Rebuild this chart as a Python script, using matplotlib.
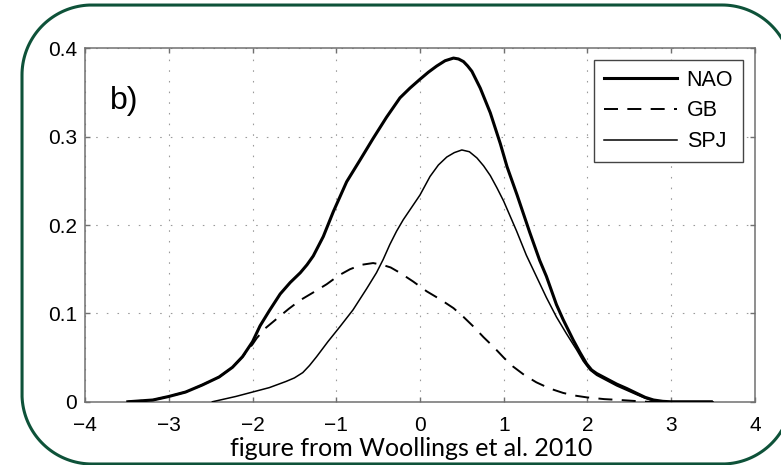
import matplotlib
matplotlib.use("Agg")
import matplotlib.pyplot as plt
import numpy as np
from matplotlib.lines import Line2D

# ── Density curves (standardised index value vs. probability density) ──────
nao_x = [-3.49, -3.19, -3.0, -2.8, -2.6, -2.4, -2.24, -2.12, -2.0, -1.91,
         -1.80, -1.67, -1.55, -1.43, -1.35, -1.275, -1.155, -1.036, -0.876,
         -0.72, -0.56, -0.40, -0.239, -0.12, 0.0, 0.10, 0.20, 0.30, 0.40,
         0.46, 0.52, 0.57, 0.62, 0.72, 0.84, 0.96, 1.04, 1.16, 1.31, 1.43,
         1.51, 1.63, 1.71, 1.83, 1.91, 1.99, 2.05, 2.11, 2.23, 2.35, 2.47,
         2.59, 2.69, 2.79, 2.90, 2.99, 3.48]
nao_y = [0.0, 0.002, 0.006, 0.011, 0.019, 0.028, 0.039, 0.051, 0.068, 0.086,
         0.103, 0.122, 0.135, 0.146, 0.155, 0.165, 0.187, 0.215, 0.249,
         0.273, 0.298, 0.322, 0.344, 0.355, 0.365, 0.373, 0.380, 0.386, 0.389,
         0.388, 0.385, 0.380, 0.374, 0.355, 0.327, 0.292, 0.266, 0.234, 0.192,
         0.160, 0.142, 0.110, 0.093, 0.070, 0.056, 0.043, 0.036, 0.032, 0.026,
         0.020, 0.015, 0.0095, 0.005, 0.002, 0.0005, 0.0, 0.0]

gb_x = [-3.49, -3.19, -3.0, -2.8, -2.6, -2.4, -2.24, -2.12, -2.0, -1.95,
        -1.85, -1.71, -1.57, -1.43, -1.27, -1.115, -0.97, -0.836, -0.70,
        -0.56, -0.45, -0.35, -0.24, -0.08, 0.08, 0.24, 0.40, 0.52, 0.64,
        0.76, 0.88, 1.0, 1.11, 1.25, 1.39, 1.55, 1.71, 1.85, 1.99, 2.2,
        2.39, 2.55, 2.71, 2.9]
gb_y = [0.0, 0.002, 0.006, 0.011, 0.019, 0.028, 0.039, 0.051, 0.065, 0.072,
        0.083, 0.094, 0.105, 0.115, 0.124, 0.133, 0.143, 0.150, 0.155,
        0.157, 0.155, 0.152, 0.146, 0.136, 0.125, 0.116, 0.106, 0.096, 0.085,
        0.073, 0.062, 0.050, 0.040, 0.030, 0.022, 0.015, 0.010, 0.007, 0.005,
        0.003, 0.002, 0.001, 0.0, 0.0]

spj_x = [-2.48, -2.2, -2.0, -1.8, -1.6, -1.5, -1.4, -1.32, -1.235, -1.1,
         -0.956, -0.80, -0.637, -0.52, -0.44, -0.36, -0.28, -0.2, -0.1, 0.0,
         0.12, 0.22, 0.32, 0.41, 0.50, 0.59, 0.68, 0.76, 0.84, 0.92, 1.0,
         1.155, 1.27, 1.39, 1.51, 1.63, 1.75, 1.87, 1.95, 2.03, 2.11, 2.23,
         2.35, 2.47, 2.59, 2.69, 2.79, 3.0, 3.5]
spj_y = [0.0, 0.006, 0.011, 0.016, 0.023, 0.027, 0.033, 0.041, 0.051, 0.068,
         0.085, 0.104, 0.128, 0.146, 0.161, 0.178, 0.193, 0.206, 0.220, 0.234,
         0.255, 0.268, 0.277, 0.282, 0.285, 0.283, 0.276, 0.267, 0.256, 0.242,
         0.227, 0.193, 0.166, 0.142, 0.118, 0.096, 0.077, 0.059, 0.046, 0.036,
         0.030, 0.024, 0.018, 0.013, 0.008, 0.004, 0.001, 0.0, 0.0]

x_ticks = [-4, -3, -2, -1, 0, 1, 2, 3, 4]
x_tick_labels = ["\u22124", "\u22123", "\u22122", "\u22121", "0", "1", "2", "3", "4"]
y_ticks = [0, 0.1, 0.2, 0.3, 0.4]
y_tick_labels = ["0", "0.1", "0.2", "0.3", "0.4"]

AXIS_GRAY = "#707070"
BORDER_GREEN = "#0e5239"

plt.rcParams["font.family"] = ["Liberation Sans", "DejaVu Sans"]

fig = plt.figure(figsize=(7.81, 4.65), dpi=100)
ax = fig.add_axes([0.109, 0.136, 0.8575, 0.760])

ax.plot(nao_x, nao_y, color="black", lw=2.2, label="NAO", zorder=3,
        solid_joinstyle="round")
ax.plot(gb_x, gb_y, color="black", lw=1.4, ls=(0, (7.2, 4.8)), label="GB",
        zorder=3)
ax.plot(spj_x, spj_y, color="black", lw=1.1, label="SPJ", zorder=3,
        solid_joinstyle="round")

ax.set_xlim(-4, 4)
ax.set_ylim(0, 0.4)
ax.set_xticks(x_ticks)
ax.set_xticklabels(x_tick_labels)
ax.set_yticks(y_ticks)
ax.set_yticklabels(y_tick_labels)

ax.grid(True, color="#9a9a9a", lw=0.8, ls=(0, (1.4, 8.2)))
ax.set_axisbelow(True)
for sp in ax.spines.values():
    sp.set_color(AXIS_GRAY)
    sp.set_linewidth(1.1)
ax.tick_params(direction="in", length=3.5, width=1.0, color=AXIS_GRAY,
               top=True, right=True, labelsize=15, labelcolor="black")
ax.tick_params(axis="x", pad=10)
ax.tick_params(axis="y", pad=6)

ax.text(-3.70, 0.34, "b)", fontsize=23, ha="left", va="center")

leg = ax.legend(loc="upper right", bbox_to_anchor=(0.982, 0.967),
                fontsize=15.5, handlelength=3.4, handletextpad=0.45,
                labelspacing=0.45, borderpad=0.45, fancybox=False,
                framealpha=1.0, borderaxespad=0)
leg.get_frame().set_edgecolor("#444444")
leg.get_frame().set_linewidth(1.0)


# rounded frame around the panel (inches); the right side is left open
# because it falls past the edge of the canvas
def corner(cx, cy, r, a0, a1, n=40):
    t = np.radians(np.linspace(a0, a1, n))
    return list(cx + r * np.cos(t)), list(cy + r * np.sin(t))


left, right, bottom, top, r = 0.22, 7.92, 0.01, 4.60, 0.70
fx, fy = [], []
for cx, cy, a0, a1 in [(right - r, top - r, 0, 90),
                       (left + r, top - r, 90, 180),
                       (left + r, bottom + r, 180, 270),
                       (right - r, bottom + r, 270, 360)]:
    xs, ys = corner(cx, cy, r, a0, a1)
    fx += xs
    fy += ys
fig.add_artist(Line2D(fx, fy, color=BORDER_GREEN, lw=2.2,
                      transform=fig.dpi_scale_trans, solid_capstyle="round"))

fig.text(411 / 781, 1 - 448 / 465, "figure from Woollings et al. 2010",
         fontsize=18, family=["Lato", "DejaVu Sans"], ha="center", va="center")

fig.savefig("out.png", dpi=100)
